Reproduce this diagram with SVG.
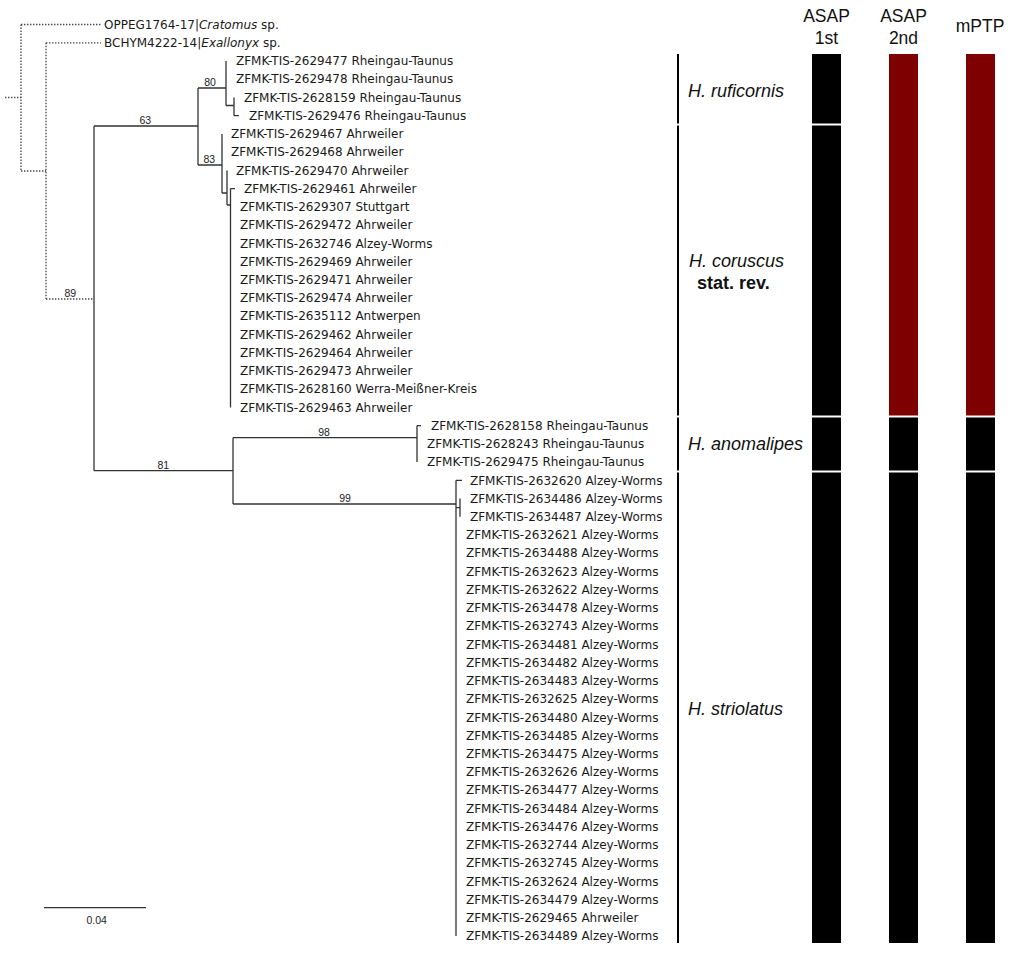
<svg xmlns="http://www.w3.org/2000/svg" width="1024" height="959" viewBox="0 0 1024 959">
<style>
.br{fill:none;stroke:#333;stroke-width:1.3}
.dot{fill:none;stroke:#444;stroke-width:1.3;stroke-dasharray:1.4 1.6}
.tip{font-family:"DejaVu Sans",Verdana,sans-serif;font-size:12px;fill:#1a1a1a}
.it{font-style:italic}
.bs{font-family:"Liberation Sans",Arial,sans-serif;font-size:10.5px;fill:#222;text-anchor:middle}
.sp{font-family:"Liberation Sans",Arial,sans-serif;font-size:18px;font-style:italic;fill:#111}
.sr{font-family:"Liberation Sans",Arial,sans-serif;font-size:18px;font-weight:bold;fill:#111}
.hdr{font-family:"Liberation Sans",Arial,sans-serif;font-size:17.5px;fill:#111;text-anchor:middle}
.k{fill:#000}
.r{fill:#7f0000}
.brk{stroke:#000;stroke-width:2}
</style>
<rect width="1024" height="959" fill="#fff"/>

<g id="connectors">
  <path class="dot" d="M5 97.5H21M21 24.5V171M21 24.5H101M21 171H46M46 42.8V299M46 42.8H101M46 299H94"/>
  <path class="br" d="M94 126V470.7M94 126H198M94 470.7H233"/>
  <path class="br" d="M198 88V165M198 88H226M198 165H222"/>
  <path class="br" d="M226 61V105.5M226 105.5H234M234 97.5V115.7M234 115.7H239"/>
  <path class="br" d="M222 133.9V193M222 193H227M227 170.4V205M227 205H230.5M230.5 188.6V407.4M230.5 188.6H235"/>
  <path class="br" d="M233 437.7V504M233 437.7H417M233 504H456"/>
  <path class="br" d="M417 425.6V462.1M417 425.6H421"/>
  <path class="br" d="M456 480.3V936.1M456 480.3H462M456 507.6H460M460 498.5V516.8"/>
  <path class="br" d="M44 907.7H146"/>
</g>

<g id="bootstrap">
  <text class="bs" x="70.3" y="297">89</text>
  <text class="bs" x="145.3" y="124">63</text>
  <text class="bs" x="210" y="85.5">80</text>
  <text class="bs" x="209.3" y="163">83</text>
  <text class="bs" x="163.3" y="469">81</text>
  <text class="bs" x="324" y="436">98</text>
  <text class="bs" x="345" y="502">99</text>
  <text class="bs" x="96.7" y="924">0.04</text>
</g>

<g id="outgroups">
  <text class="tip" x="104" y="28.7">OPPEG1764-17|<tspan class="it">Cratomus</tspan> sp.</text>
  <text class="tip" x="104" y="47">BCHYM4222-14|<tspan class="it">Exallonyx</tspan> sp.</text>
</g>

<g id="clade-ruficornis">
  <text class="tip" x="236" y="65.2">ZFMK-TIS-2629477 Rheingau-Taunus</text>
  <text class="tip" x="236" y="83.4">ZFMK-TIS-2629478 Rheingau-Taunus</text>
  <text class="tip" x="244" y="101.7">ZFMK-TIS-2628159 Rheingau-Taunus</text>
  <text class="tip" x="249" y="119.9">ZFMK-TIS-2629476 Rheingau-Taunus</text>
</g>

<g id="clade-coruscus">
  <text class="tip" x="231" y="138.1">ZFMK-TIS-2629467 Ahrweiler</text>
  <text class="tip" x="231" y="156.4">ZFMK-TIS-2629468 Ahrweiler</text>
  <text class="tip" x="236" y="174.6">ZFMK-TIS-2629470 Ahrweiler</text>
  <text class="tip" x="244" y="192.8">ZFMK-TIS-2629461 Ahrweiler</text>
  <text class="tip" x="240" y="211">ZFMK-TIS-2629307 Stuttgart</text>
  <text class="tip" x="240" y="229.3">ZFMK-TIS-2629472 Ahrweiler</text>
  <text class="tip" x="240" y="247.5">ZFMK-TIS-2632746 Alzey-Worms</text>
  <text class="tip" x="240" y="265.7">ZFMK-TIS-2629469 Ahrweiler</text>
  <text class="tip" x="240" y="284">ZFMK-TIS-2629471 Ahrweiler</text>
  <text class="tip" x="240" y="302.2">ZFMK-TIS-2629474 Ahrweiler</text>
  <text class="tip" x="240" y="320.4">ZFMK-TIS-2635112 Antwerpen</text>
  <text class="tip" x="240" y="338.7">ZFMK-TIS-2629462 Ahrweiler</text>
  <text class="tip" x="240" y="356.9">ZFMK-TIS-2629464 Ahrweiler</text>
  <text class="tip" x="240" y="375.1">ZFMK-TIS-2629473 Ahrweiler</text>
  <text class="tip" x="240" y="393.3">ZFMK-TIS-2628160 Werra-Meißner-Kreis</text>
  <text class="tip" x="240" y="411.6">ZFMK-TIS-2629463 Ahrweiler</text>
</g>

<g id="clade-anomalipes">
  <text class="tip" x="431" y="429.8">ZFMK-TIS-2628158 Rheingau-Taunus</text>
  <text class="tip" x="427" y="448">ZFMK-TIS-2628243 Rheingau-Taunus</text>
  <text class="tip" x="427" y="466.3">ZFMK-TIS-2629475 Rheingau-Taunus</text>
</g>

<g id="clade-striolatus">
  <text class="tip" x="470" y="484.5">ZFMK-TIS-2632620 Alzey-Worms</text>
  <text class="tip" x="470" y="502.7">ZFMK-TIS-2634486 Alzey-Worms</text>
  <text class="tip" x="470" y="521">ZFMK-TIS-2634487 Alzey-Worms</text>
  <text class="tip" x="466" y="539.2">ZFMK-TIS-2632621 Alzey-Worms</text>
  <text class="tip" x="466" y="557.4">ZFMK-TIS-2634488 Alzey-Worms</text>
  <text class="tip" x="466" y="575.7">ZFMK-TIS-2632623 Alzey-Worms</text>
  <text class="tip" x="466" y="593.9">ZFMK-TIS-2632622 Alzey-Worms</text>
  <text class="tip" x="466" y="612.1">ZFMK-TIS-2634478 Alzey-Worms</text>
  <text class="tip" x="466" y="630.4">ZFMK-TIS-2632743 Alzey-Worms</text>
  <text class="tip" x="466" y="648.6">ZFMK-TIS-2634481 Alzey-Worms</text>
  <text class="tip" x="466" y="666.8">ZFMK-TIS-2634482 Alzey-Worms</text>
  <text class="tip" x="466" y="685">ZFMK-TIS-2634483 Alzey-Worms</text>
  <text class="tip" x="466" y="703.3">ZFMK-TIS-2632625 Alzey-Worms</text>
  <text class="tip" x="466" y="721.5">ZFMK-TIS-2634480 Alzey-Worms</text>
  <text class="tip" x="466" y="739.7">ZFMK-TIS-2634485 Alzey-Worms</text>
  <text class="tip" x="466" y="758">ZFMK-TIS-2634475 Alzey-Worms</text>
  <text class="tip" x="466" y="776.2">ZFMK-TIS-2632626 Alzey-Worms</text>
  <text class="tip" x="466" y="794.4">ZFMK-TIS-2634477 Alzey-Worms</text>
  <text class="tip" x="466" y="812.7">ZFMK-TIS-2634484 Alzey-Worms</text>
  <text class="tip" x="466" y="830.9">ZFMK-TIS-2634476 Alzey-Worms</text>
  <text class="tip" x="466" y="849.1">ZFMK-TIS-2632744 Alzey-Worms</text>
  <text class="tip" x="466" y="867.3">ZFMK-TIS-2632745 Alzey-Worms</text>
  <text class="tip" x="466" y="885.6">ZFMK-TIS-2632624 Alzey-Worms</text>
  <text class="tip" x="466" y="903.8">ZFMK-TIS-2634479 Alzey-Worms</text>
  <text class="tip" x="466" y="922">ZFMK-TIS-2629465 Ahrweiler</text>
  <text class="tip" x="466" y="940.3">ZFMK-TIS-2634489 Alzey-Worms</text>
</g>

<g id="species-labels">
  <path class="brk" d="M678 54V123.5M678 125.5V415.5M678 417.5V470.5M678 472.5V943"/>
  <text class="sp" x="688" y="96.5">H. ruficornis</text>
  <text class="sp" x="689" y="267">H. coruscus</text>
  <text class="sr" x="697" y="289">stat. rev.</text>
  <text class="sp" x="688" y="449.5">H. anomalipes</text>
  <text class="sp" x="688" y="715">H. striolatus</text>
</g>

<g id="delimitation">
  <text class="hdr" x="826.5" y="22">ASAP</text>
  <text class="hdr" x="826.5" y="43.5">1st</text>
  <text class="hdr" x="903.5" y="22">ASAP</text>
  <text class="hdr" x="903.5" y="43.5">2nd</text>
  <text class="hdr" x="980" y="32">mPTP</text>
  <g id="asap1">
    <rect class="k" x="812" y="54" width="29" height="69.5"/>
    <rect class="k" x="812" y="125.5" width="29" height="290"/>
    <rect class="k" x="812" y="417.5" width="29" height="53"/>
    <rect class="k" x="812" y="472.5" width="29" height="470.5"/>
  </g>
  <g id="asap2">
    <rect class="r" x="889" y="54" width="29" height="361.5"/>
    <rect class="k" x="889" y="417.5" width="29" height="53"/>
    <rect class="k" x="889" y="472.5" width="29" height="470.5"/>
  </g>
  <g id="mptp">
    <rect class="r" x="966" y="54" width="29" height="361.5"/>
    <rect class="k" x="966" y="417.5" width="29" height="53"/>
    <rect class="k" x="966" y="472.5" width="29" height="470.5"/>
  </g>
</g>
</svg>
